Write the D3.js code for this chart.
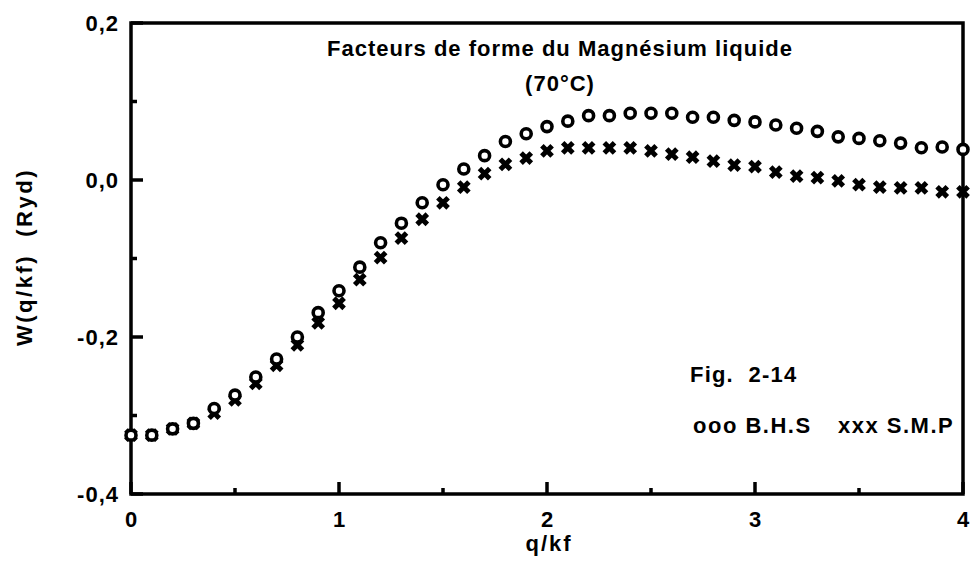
<!DOCTYPE html>
<html>
<head>
<meta charset="utf-8">
<script src="https://cdn.jsdelivr.net/npm/d3@7"></script>
<style>
  body { margin: 0; background: #fff; }
  text { font-family: 'Liberation Sans', Arial, sans-serif; fill: #000; font-weight: bold; }
</style>
</head>
<body>
<svg id="chart" width="971" height="564"></svg>
<script>
// q/kf sampled every 0.1 from 0 to 4
const qValues = d3.range(0, 41).map(i => i / 10);

// B.H.S (circles)
const bhs = [
  -0.325, -0.325, -0.317, -0.310, -0.291, -0.274, -0.251, -0.228, -0.200, -0.169,
  -0.141, -0.111, -0.080, -0.055, -0.029, -0.006, 0.014, 0.031, 0.049, 0.059,
  0.068, 0.075, 0.082, 0.082, 0.085, 0.085, 0.085, 0.080, 0.080, 0.076,
  0.074, 0.070, 0.066, 0.062, 0.055, 0.053, 0.050, 0.047, 0.041, 0.042,
  0.039,
];

// S.M.P (crosses)
const smp = [
  -0.325, -0.325, -0.317, -0.310, -0.297, -0.280, -0.259, -0.236, -0.210, -0.182,
  -0.157, -0.127, -0.099, -0.074, -0.050, -0.029, -0.009, 0.008, 0.020, 0.028,
  0.037, 0.041, 0.041, 0.041, 0.041, 0.037, 0.033, 0.029, 0.024, 0.019,
  0.017, 0.010, 0.005, 0.003, -0.001, -0.006, -0.009, -0.010, -0.010, -0.015,
  -0.015,
];

const xTicks = [0, 1, 2, 3, 4];
const xMinor = [0.5, 1.5, 2.5, 3.5];
const yTicks = [-0.4, -0.2, 0, 0.2];
const yMinor = [-0.3, -0.1, 0.1];

const svg = d3.select('#chart');
const margin = { top: 23, right: 8, bottom: 70, left: 131 };
const width = +svg.attr('width') - margin.left - margin.right;
const height = +svg.attr('height') - margin.top - margin.bottom;
const g = svg.append('g').attr('transform', `translate(${margin.left},${margin.top})`);

const x = d3.scaleLinear().domain([0, 4]).range([0, width]);
const y = d3.scaleLinear().domain([-0.4, 0.2]).range([height, 0]);

const comma = d => d3.format('.1f')(d).replace('.', ',').replace('−', '-');

// tick labels via axes, tick marks drawn inward below
const xAxis = g.append('g')
  .attr('transform', `translate(0,${height})`)
  .call(d3.axisBottom(x).tickValues(xTicks).tickSize(0).tickPadding(17).tickFormat(d3.format('d')));
const yAxis = g.append('g')
  .call(d3.axisLeft(y).tickValues(yTicks).tickSize(0).tickPadding(12).tickFormat(comma));

[xAxis, yAxis].forEach((a) => {
  a.select('.domain').remove();
  a.selectAll('text')
    .attr('font-size', 22)
    .attr('font-weight', 'bold')
    .attr('letter-spacing', 1)
    .attr('font-family', "'Liberation Sans', Arial, sans-serif");
});

const ticks = g.append('g').attr('stroke', '#000').attr('stroke-width', 3.5);

ticks.selectAll('.xt')
  .data(xTicks.map(v => ({ v, len: 12 })).concat(xMinor.map(v => ({ v, len: 6 }))))
  .enter()
  .append('line')
  .attr('x1', d => x(d.v))
  .attr('x2', d => x(d.v))
  .attr('y1', height)
  .attr('y2', d => height - d.len);

ticks.selectAll('.yt')
  .data(yTicks.map(v => ({ v, len: 12 })).concat(yMinor.map(v => ({ v, len: 6 }))))
  .enter()
  .append('line')
  .attr('y1', d => y(d.v))
  .attr('y2', d => y(d.v))
  .attr('x1', 0)
  .attr('x2', d => d.len);

// frame
g.append('rect')
  .attr('width', width)
  .attr('height', height)
  .attr('fill', 'none')
  .attr('stroke', '#000')
  .attr('stroke-width', 3.5);

// points
const rows = qValues.map((q, i) => ({ q, bhs: bhs[i], smp: smp[i] }));

g.append('g')
  .selectAll('path')
  .data(rows)
  .enter()
  .append('path')
  .attr('transform', d => `translate(${x(d.q)},${y(d.smp)})`)
  .attr('d', d3.symbol().type(d3.symbolX).size(70))
  .attr('fill', 'none')
  .attr('stroke', '#000')
  .attr('stroke-width', 5);

g.append('g')
  .selectAll('circle')
  .data(rows)
  .enter()
  .append('circle')
  .attr('cx', d => x(d.q))
  .attr('cy', d => y(d.bhs))
  .attr('r', 5)
  .attr('fill', '#fff')
  .attr('stroke', '#000')
  .attr('stroke-width', 3.6);

// texts
const label = (tx, ty, str, anchor = 'start', spacing = 1) => svg.append('text')
  .attr('x', tx)
  .attr('y', ty)
  .attr('text-anchor', anchor)
  .attr('font-size', 22)
  .attr('letter-spacing', spacing)
  .style('white-space', 'pre')
  .text(str);

label(560, 56, 'Facteurs de forme du Magnésium liquide', 'middle', 1);
label(560, 91, '(70°C)', 'middle', 1);
label(690, 382, 'Fig.  2-14', 'start', 1.2);
label(693, 433, 'ooo B.H.S', 'start', 1.5);
label(838, 433, 'xxx S.M.P', 'start', 1.5);
label(549, 551, 'q/kf', 'middle', 2);

svg.append('text')
  .attr('transform', 'translate(32,257) rotate(-90)')
  .attr('text-anchor', 'middle')
  .attr('font-size', 22)
  .attr('letter-spacing', 2.5)
  .style('white-space', 'pre')
  .text('W(q/kf)  (Ryd)');
</script>
</body>
</html>
